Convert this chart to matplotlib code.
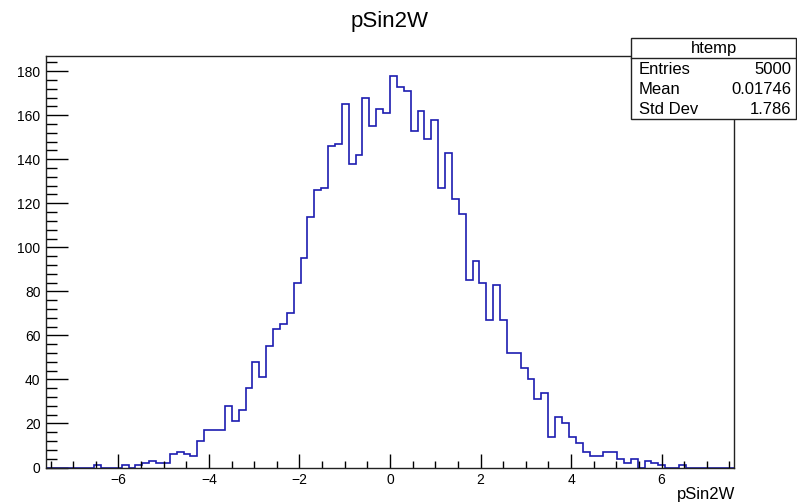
import matplotlib
matplotlib.use('Agg')
import matplotlib.pyplot as plt
import numpy as np
from matplotlib.ticker import MultipleLocator, FixedLocator, FixedFormatter
from matplotlib.patches import Rectangle
from matplotlib.lines import Line2D

plt.rcParams['font.family'] = ['Liberation Sans', 'DejaVu Sans']

# ---- data ----
x_min, x_max, n_bins = -7.6, 7.6, 100
counts = [
    0, 0, 0, 0, 0, 0, 0, 1, 0, 0,
    0, 1, 0, 1, 2, 3, 2, 2, 6, 7,
    6, 5, 12, 17, 17, 17, 28, 21, 26, 36,
    48, 41, 55, 63, 65, 70, 84, 95, 114, 126,
    127, 146, 147, 165, 138, 142, 168, 155, 163, 161,
    178, 173, 171, 153, 162, 149, 158, 127, 143, 122,
    115, 85, 94, 84, 67, 83, 67, 52, 52, 45,
    40, 31, 34, 14, 23, 20, 14, 11, 7, 5,
    5, 7, 7, 4, 2, 4, 0, 3, 2, 1,
    0, 0, 1, 0, 0, 0, 0, 0, 0, 0,
]
title = "pSin2W"
x_label = "pSin2W"
stats_name = "htemp"
stats_labels = ["Entries", "Mean", "Std Dev"]
stats_values = ["5000", "0.01746", "1.786"]
x_ticks = [-6, -4, -2, 0, 2, 4, 6]
x_ticklabels = ["\u22126", "\u22124", "\u22122", "0", "2", "4", "6"]
y_ticks = [0, 20, 40, 60, 80, 100, 120, 140, 160, 180]

# ---- figure ----
W, H = 797, 503
fig = plt.figure(figsize=(W / 100, H / 100), dpi=100)
L, R, T, B = 46, 734, 56, 467.5
ax = fig.add_axes([L / W, 1 - B / H, (R - L) / W, (B - T) / H])

edges = np.linspace(x_min, x_max, n_bins + 1)
ax.stairs(counts, edges, color='#1c1cb0', lw=1.2, baseline=0)
ax.set_xlim(x_min, x_max)
ax.set_ylim(0, max(counts) * 1.05)

for s in ax.spines.values():
    s.set_linewidth(1.0)
    s.set_color('#222222')

ax.xaxis.set_major_locator(FixedLocator(x_ticks))
ax.xaxis.set_major_formatter(FixedFormatter(x_ticklabels))
ax.xaxis.set_minor_locator(MultipleLocator(0.5))
ax.yaxis.set_major_locator(FixedLocator(y_ticks))
ax.yaxis.set_minor_locator(MultipleLocator(4))

ax.tick_params(axis='x', which='major', direction='in', length=10, width=1, labelsize=10, pad=4)
ax.tick_params(axis='x', which='minor', direction='in', length=5.4, width=1)
ax.tick_params(axis='y', which='major', direction='in', length=16, width=1, labelsize=10, pad=4)
ax.tick_params(axis='y', which='minor', direction='in', length=8, width=1)

# title
fig.text((L + R) / 2 / W, 1 - 22 / H, title, ha='center', va='center', fontsize=16)
# x label
fig.text(735 / W, 1 - 494 / H, x_label, ha='right', va='center', fontsize=12)

# stats box
bx0, bx1, by0, by1 = 631, 796, 38, 119
fig.add_artist(Rectangle((bx0 / W, 1 - by1 / H), (bx1 - bx0) / W, (by1 - by0) / H,
                         transform=fig.transFigure, facecolor='white', edgecolor='#222222', lw=1.0))
fig.add_artist(Line2D([bx0 / W, bx1 / W], [1 - 58 / H, 1 - 58 / H], transform=fig.transFigure,
                      color='#222222', lw=1.0))
fig.text((bx0 + bx1) / 2 / W, 1 - 48 / H, stats_name, ha='center', va='center', fontsize=12)
for lab, val, yy in zip(stats_labels, stats_values, [70, 89, 109]):
    fig.text(639 / W, 1 - yy / H, lab, ha='left', va='center', fontsize=12)
    fig.text(791 / W, 1 - yy / H, val, ha='right', va='center', fontsize=12)

fig.savefig('out.png', dpi=100)
